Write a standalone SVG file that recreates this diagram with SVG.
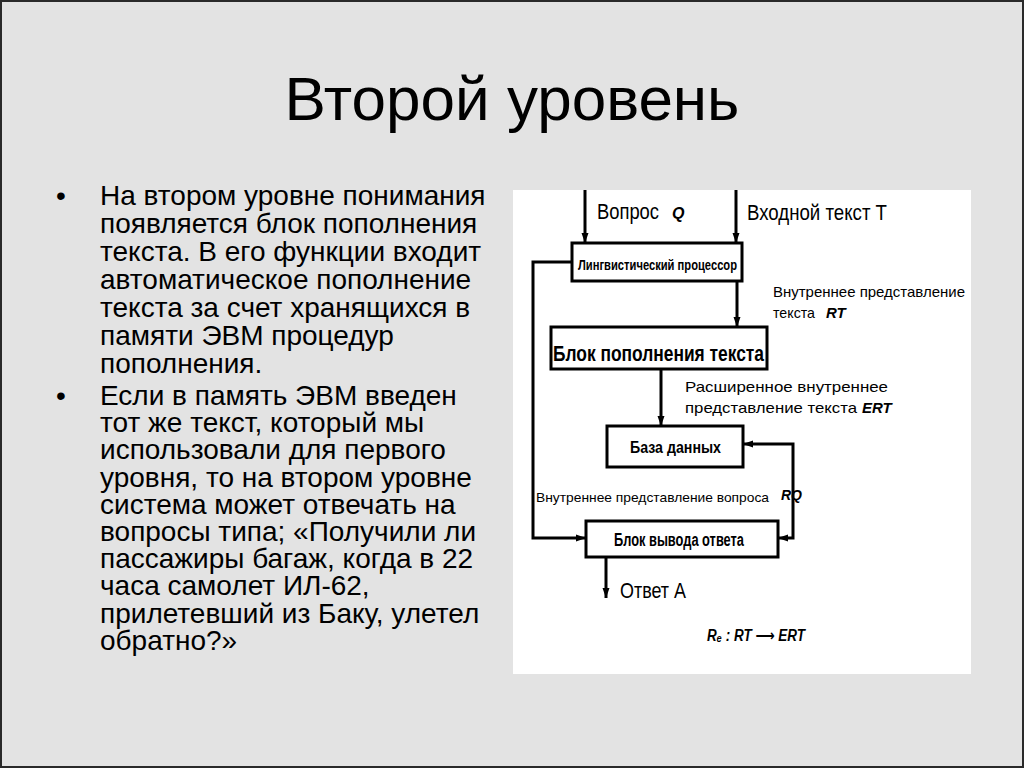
<svg xmlns="http://www.w3.org/2000/svg" width="1024" height="768" viewBox="0 0 1024 768">
<defs>
<marker id="arr" markerUnits="userSpaceOnUse" markerWidth="10" markerHeight="16" viewBox="0 0 10 16" refX="10" refY="8" orient="auto-start-reverse">
<path d="M0,4.5 L10,8 L0,11.5 Z" fill="#000"/>
</marker>
<style>
.bg{fill:#e3e3e3;stroke:#2a2a2a;stroke-width:2}
.title{font-family:"Liberation Sans",Arial,sans-serif;font-size:62px;fill:#000;text-anchor:middle}
.body{font-family:"Liberation Sans",Arial,sans-serif;font-size:28px;fill:#000}
.box{fill:#fff;stroke:#000;stroke-width:3}
.lbl{font-family:"Liberation Sans",Arial,sans-serif;fill:#000}
.bold{font-weight:bold}
.sym{font-family:"Liberation Sans","DejaVu Sans",sans-serif;font-style:italic;font-weight:bold;fill:#000}
.conn{fill:none;stroke:#000;stroke-width:3}
</style>
</defs>
<rect class="bg" x="1" y="1" width="1022" height="766"/>
<text class="title" x="512" y="120">Второй уровень</text>
<g id="bullets">
<text class="body" x="56" y="205">•</text>
<text class="body" x="100" y="205">На втором уровне понимания</text>
<text class="body" x="100" y="233">появляется блок пополнения</text>
<text class="body" x="100" y="261">текста. В его функции входит</text>
<text class="body" x="100" y="289">автоматическое пополнение</text>
<text class="body" x="100" y="317">текста за счет хранящихся в</text>
<text class="body" x="100" y="345">памяти ЭВМ процедур</text>
<text class="body" x="100" y="373">пополнения.</text>
<text class="body" x="56" y="405">•</text>
<text class="body" x="100" y="405">Если в память ЭВМ введен</text>
<text class="body" x="100" y="432">тот же текст, который мы</text>
<text class="body" x="100" y="459">использовали для первого</text>
<text class="body" x="100" y="487">уровня, то на втором уровне</text>
<text class="body" x="100" y="514">система может отвечать на</text>
<text class="body" x="100" y="541">вопросы типа; «Получили ли</text>
<text class="body" x="100" y="568">пассажиры багаж, когда в 22</text>
<text class="body" x="100" y="595">часа самолет ИЛ-62,</text>
<text class="body" x="100" y="623">прилетевший из Баку, улетел</text>
<text class="body" x="100" y="650">обратно?»</text>
</g>
<rect x="513" y="190" width="458" height="484" fill="#fff"/>
<g id="connectors">
<path class="conn" d="M585,190 V243" marker-end="url(#arr)"/>
<path class="conn" d="M736,190 V243" marker-end="url(#arr)"/>
<path class="conn" d="M572,262 H533 V538 H586" marker-end="url(#arr)"/>
<path class="conn" d="M737,281 V327" marker-end="url(#arr)"/>
<path class="conn" d="M661,369 V426" marker-end="url(#arr)"/>
<path class="conn" d="M778,538 H793 V444 H743" marker-start="url(#arr)" marker-end="url(#arr)"/>
<path class="conn" d="M606,557 V598" marker-end="url(#arr)"/>
</g>
<g id="labels">
<text class="lbl" x="597" y="219" font-size="22" textLength="62" lengthAdjust="spacingAndGlyphs">Вопрос</text>
<text class="sym" x="672" y="219" font-size="16">Q</text>
<text class="lbl" x="747" y="220" font-size="22" textLength="140" lengthAdjust="spacingAndGlyphs">Входной текст T</text>
<text class="lbl" x="773" y="297" font-size="15" textLength="192" lengthAdjust="spacingAndGlyphs">Внутреннее представление</text>
<text class="lbl" x="773" y="318" font-size="15" textLength="42" lengthAdjust="spacingAndGlyphs">текста</text>
<text class="sym" x="826" y="318" font-size="15">RT</text>
<text class="lbl" x="685" y="392" font-size="15" textLength="203" lengthAdjust="spacingAndGlyphs">Расширенное внутреннее</text>
<text class="lbl" x="685" y="413" font-size="15" textLength="172" lengthAdjust="spacingAndGlyphs">представление текста</text>
<text class="sym" x="862" y="413" font-size="15">ERT</text>
<text class="lbl" x="536" y="502" font-size="13" textLength="233" lengthAdjust="spacingAndGlyphs">Внутреннее представление вопроса</text>
<text class="sym" x="781" y="500" font-size="14">RQ</text>
<text class="lbl" x="620" y="598" font-size="22" textLength="66" lengthAdjust="spacingAndGlyphs">Ответ А</text>
<text class="sym" x="707" y="641" font-size="16" textLength="98" lengthAdjust="spacingAndGlyphs">Rₑ : RT ⟶ ERT</text>
</g>
<g id="node-ling">
<rect class="box" x="572" y="243" width="170" height="38"/>
<text class="lbl bold" x="578" y="270" font-size="14" textLength="159" lengthAdjust="spacingAndGlyphs">Лингвистический процессор</text>
</g>
<g id="node-popolnenie">
<rect class="box" x="551" y="327" width="216" height="42"/>
<text class="lbl bold" x="553" y="361" font-size="22" textLength="211" lengthAdjust="spacingAndGlyphs">Блок пополнения текста</text>
</g>
<g id="node-db">
<rect class="box" x="607" y="426" width="136" height="41"/>
<text class="lbl bold" x="630" y="453" font-size="17" textLength="91" lengthAdjust="spacingAndGlyphs">База данных</text>
</g>
<g id="node-vyvod">
<rect class="box" x="586" y="521" width="192" height="36"/>
<text class="lbl bold" x="614" y="546" font-size="18" textLength="130" lengthAdjust="spacingAndGlyphs">Блок вывода ответа</text>
</g>
</svg>
